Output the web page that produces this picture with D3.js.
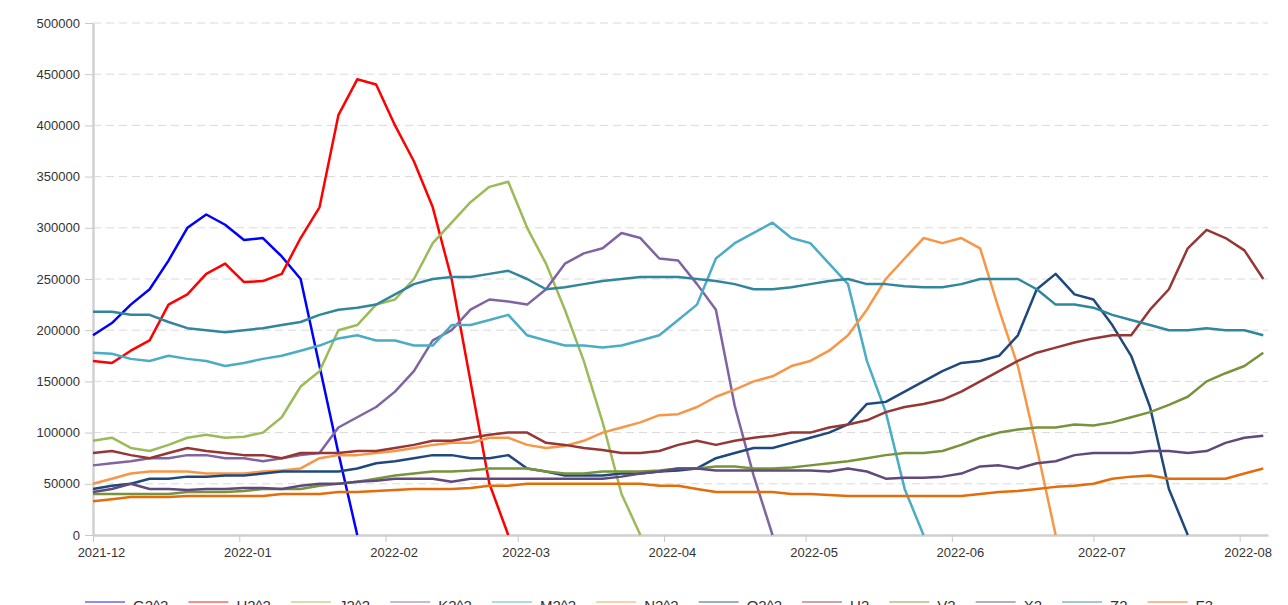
<!DOCTYPE html>
<html>
<head>
<meta charset="utf-8">
<style>
	body { margin: 0; background: #fff; }
	.grid line { stroke: #d9d9d9; stroke-dasharray: 8,5; }
	.series { fill: none; stroke-width: 2.5px; stroke-linejoin: round; }
	text { font-family: "Liberation Sans", Arial, sans-serif; fill: #333; }
</style>
</head>
<body>
<script src="https://d3js.org/d3.v7.min.js"></script>
<script>

	// sample dates: every 4 days from 2021-12-01
	var start = new Date(2021, 11, 1);
	var dates = d3.range(63).map(function(i){ return d3.timeDay.offset(start, i * 4); });

	var yTicks = [0, 50000, 100000, 150000, 200000, 250000, 300000, 350000, 400000, 450000, 500000];

	var names = ["G2^2", "H2^2", "J2^2", "K2^2", "M2^2", "N2^2", "Q2^2", "U2", "V2", "X2", "Z2", "F3"];
	var colors = ["#0000ff", "#ff0000", "#9bbb59", "#8064a2", "#4bacc6", "#f79646",
	              "#1f497d", "#953735", "#77933c", "#604a7b", "#31859c", "#e46c0a"];

	var g2 = [195000,207000,225000,240000,268000,300000,313000,303000,288000,290000,272000,250000,165000,80000,0];
	var h2 = [170000,168000,180000,190000,225000,235000,255000,265000,247000,248000,255000,290000,320000,410000,445000,
	          440000,400000,365000,320000,250000,150000,50000,0];
	var j2 = [92000,95000,85000,82000,88000,95000,98000,95000,96000,100000,115000,145000,160000,200000,205000,
	          225000,230000,250000,285000,305000,325000,340000,345000,300000,265000,220000,170000,110000,40000,0];
	var k2 = [68000,70000,72000,75000,75000,78000,78000,75000,75000,72000,75000,78000,80000,105000,115000,
	          125000,140000,160000,190000,200000,220000,230000,228000,225000,240000,265000,275000,280000,295000,290000,
	          270000,268000,245000,220000,126000,58000,0];
	var m2 = [178000,177000,172000,170000,175000,172000,170000,165000,168000,172000,175000,180000,185000,192000,195000,
	          190000,190000,185000,185000,205000,205000,210000,215000,195000,190000,185000,185000,183000,185000,190000,
	          195000,210000,225000,270000,285000,295000,305000,290000,285000,265000,245000,170000,120000,45000,0];
	var n2 = [50000,55000,60000,62000,62000,62000,60000,60000,60000,62000,63000,65000,75000,78000,78000,
	          80000,82000,85000,88000,90000,90000,95000,95000,88000,85000,87000,92000,100000,105000,110000,
	          117000,118000,125000,135000,142000,150000,155000,165000,170000,180000,195000,220000,250000,270000,290000,
	          285000,290000,280000,220000,165000,85000,0];
	var q2 = [45000,48000,50000,55000,55000,57000,57000,58000,58000,60000,62000,62000,62000,62000,65000,
	          70000,72000,75000,78000,78000,75000,75000,78000,65000,62000,58000,58000,58000,60000,60000,
	          62000,63000,65000,75000,80000,85000,85000,90000,95000,100000,108000,128000,130000,140000,150000,
	          160000,168000,170000,175000,195000,240000,255000,235000,230000,205000,175000,125000,45000,0];
	var u2 = [80000,82000,78000,75000,80000,85000,82000,80000,78000,78000,75000,80000,80000,80000,82000,
	          82000,85000,88000,92000,92000,95000,98000,100000,100000,90000,88000,85000,83000,80000,80000,
	          82000,88000,92000,88000,92000,95000,97000,100000,100000,105000,108000,112000,120000,125000,128000,
	          132000,140000,150000,160000,170000,178000,183000,188000,192000,195000,195000,220000,240000,280000,298000,
	          290000,278000,250000];
	var v2 = [40000,40000,40000,40000,40000,42000,42000,42000,43000,45000,45000,45000,48000,50000,52000,
	          55000,58000,60000,62000,62000,63000,65000,65000,65000,62000,60000,60000,62000,62000,62000,
	          63000,65000,65000,67000,67000,65000,65000,66000,68000,70000,72000,75000,78000,80000,80000,
	          82000,88000,95000,100000,103000,105000,105000,108000,107000,110000,115000,120000,127000,135000,150000,
	          158000,165000,178000];
	var x2 = [42000,45000,50000,45000,45000,44000,45000,45000,46000,46000,45000,48000,50000,50000,52000,
	          53000,55000,55000,55000,52000,55000,55000,55000,55000,55000,55000,55000,55000,57000,60000,
	          62000,65000,65000,63000,63000,63000,63000,63000,63000,62000,65000,62000,55000,56000,56000,
	          57000,60000,67000,68000,65000,70000,72000,78000,80000,80000,80000,82000,82000,80000,82000,
	          90000,95000,97000];
	var z2 = [218000,218000,215000,215000,208000,202000,200000,198000,200000,202000,205000,208000,215000,220000,222000,
	          225000,235000,245000,250000,252000,252000,255000,258000,250000,240000,242000,245000,248000,250000,252000,
	          252000,252000,250000,248000,245000,240000,240000,242000,245000,248000,250000,245000,245000,243000,242000,
	          242000,245000,250000,250000,250000,240000,225000,225000,222000,215000,210000,205000,200000,200000,202000,
	          200000,200000,195000];
	var f3 = [33000,35000,37000,37000,37000,38000,38000,38000,38000,38000,40000,40000,40000,42000,42000,
	          43000,44000,45000,45000,45000,46000,48000,48000,50000,50000,50000,50000,50000,50000,50000,
	          48000,48000,45000,42000,42000,42000,42000,40000,40000,39000,38000,38000,38000,38000,38000,
	          38000,38000,40000,42000,43000,45000,47000,48000,50000,55000,57000,58000,55000,55000,55000,
	          55000,60000,65000];

	var seriesValues = [g2, h2, j2, k2, m2, n2, q2, u2, v2, x2, z2, f3];

	var W = 1288, H = 605;
	var mLeft = 93, mRight = 1268, mTop = 23, mBottom = 535;

	var svg = d3.select("body").append("svg")
		.attr("width", W)
		.attr("height", H);

	var x = d3.scaleTime()
		.domain([start, new Date(2022, 7, 7)])
		.range([mLeft, mRight]);

	var y = d3.scaleLinear()
		.domain([0, 500000])
		.range([mBottom, mTop]);

	// dashed grid
	svg.append("g")
		.attr("class", "grid")
		.selectAll("line")
		.data(yTicks.slice(1))
		.enter().append("line")
		.attr("x1", mLeft)
		.attr("x2", mRight)
		.attr("y1", function(d){ return y(d); })
		.attr("y2", function(d){ return y(d); });

	// y axis
	var yAxis = svg.append("g")
		.attr("transform", "translate(" + mLeft + ",0)")
		.call(d3.axisLeft(y).tickValues(yTicks).tickSize(8).tickPadding(5).tickSizeOuter(0).tickFormat(d3.format("d")));
	yAxis.select(".domain").attr("stroke", "#d0d0d0").attr("stroke-width", 2.5);
	yAxis.selectAll(".tick line").attr("stroke", "#c8c8c8");
	yAxis.selectAll("text").attr("font-size", "13px").attr("fill", "#333");

	// x axis
	var xAxis = svg.append("g")
		.attr("transform", "translate(0," + mBottom + ")")
		.call(d3.axisBottom(x).ticks(d3.timeMonth.every(1)).tickSize(7).tickPadding(6).tickSizeOuter(0)
			.tickFormat(d3.timeFormat("%Y-%m")));
	xAxis.select(".domain").attr("stroke", "#d0d0d0").attr("stroke-width", 2.5);
	xAxis.selectAll(".tick line").attr("stroke", "#c8c8c8");
	xAxis.selectAll("text").attr("font-size", "13px").attr("fill", "#333").attr("dx", 8);

	var line = d3.line()
		.defined(function(d){ return d != null; })
		.x(function(d, i){ return x(dates[i]); })
		.y(function(d){ return y(d); });

	svg.append("g")
		.selectAll("path")
		.data(seriesValues)
		.enter().append("path")
		.attr("class", "series")
		.attr("stroke", function(d, i){ return colors[i]; })
		.attr("d", line);

	// legend along the bottom edge
	var legend = svg.append("g").attr("class", "legend");
	var lx = 85;
	names.forEach(function(n, i){
		var item = legend.append("g");
		item.append("line")
			.attr("x1", lx).attr("x2", lx + 40)
			.attr("y1", 602).attr("y2", 602)
			.attr("stroke", colors[i])
			.attr("stroke-opacity", 0.45)
			.attr("stroke-width", 2);
		var t = item.append("text")
			.attr("x", lx + 48)
			.attr("y", 611)
			.attr("font-size", "15px")
			.attr("fill", "#444")
			.text(n);
		lx += 48 + t.node().getComputedTextLength() + 20;
	});

</script>
</body>
</html>
